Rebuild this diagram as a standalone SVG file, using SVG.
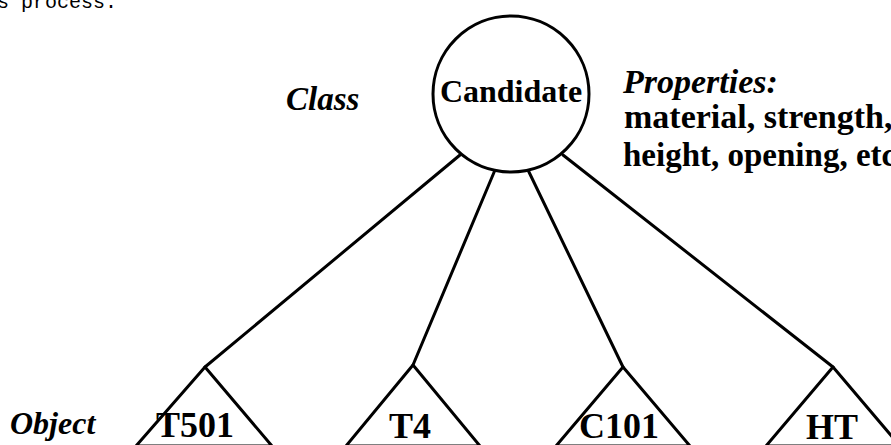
<svg xmlns="http://www.w3.org/2000/svg" width="891" height="445" viewBox="0 0 891 445">
  <style>
    .edge { fill: none; stroke: #000; stroke-width: 3; stroke-linecap: round; }
    .shape { fill: #fff; stroke: #000; stroke-width: 3; stroke-linejoin: round; }
    .b { font-family: "Liberation Serif", "Times New Roman", serif; font-weight: bold; fill: #000; }
    .bi { font-family: "Liberation Serif", "Times New Roman", serif; font-weight: bold; font-style: italic; fill: #000; }
    .obj { font-size: 36px; }
    .body { font-family: "Liberation Mono", "Courier New", monospace; font-size: 20px; fill: #000; }
  </style>
  <rect width="891" height="445" fill="#fff"/>

  <!-- tail of the preceding paragraph line -->
  <text class="body" x="-3" y="8">s process.</text>

  <g id="connectors">
    <line class="edge" x1="460" y1="155" x2="205" y2="367"/>
    <line class="edge" x1="495" y1="170" x2="413" y2="365"/>
    <line class="edge" x1="528" y1="170" x2="623" y2="367"/>
    <line class="edge" x1="563" y1="155" x2="833" y2="367"/>
  </g>

  <g id="class-candidate">
    <circle class="shape" cx="511" cy="94" r="78"/>
    <text class="b" x="511" y="102" font-size="32" text-anchor="middle">Candidate</text>
  </g>

  <g id="labels">
    <text class="bi" x="286" y="110" font-size="33">Class</text>
    <text class="bi" x="623" y="93" font-size="34">Properties:</text>
    <text class="b" x="624" y="128" font-size="34">material, strength,</text>
    <text class="b" x="623" y="166" font-size="33">height, opening, etc</text>
    <text class="bi" x="10" y="434" font-size="32">Object</text>
  </g>

  <g id="obj-t501">
    <path class="shape" d="M205 367 L136 446 L272 446 Z"/>
    <text class="b obj" x="195" y="437" text-anchor="middle">T501</text>
  </g>
  <g id="obj-t4">
    <path class="shape" d="M413 365 L346 446 L480 446 Z"/>
    <text class="b obj" x="410" y="438" text-anchor="middle">T4</text>
  </g>
  <g id="obj-c101">
    <path class="shape" d="M623 367 L556 446 L690 446 Z"/>
    <text class="b obj" x="619" y="438" text-anchor="middle">C101</text>
  </g>
  <g id="obj-ht">
    <path class="shape" d="M833 367 L766 446 L900 446 Z"/>
    <text class="b obj" x="832" y="439" text-anchor="middle">HT</text>
  </g>
</svg>
